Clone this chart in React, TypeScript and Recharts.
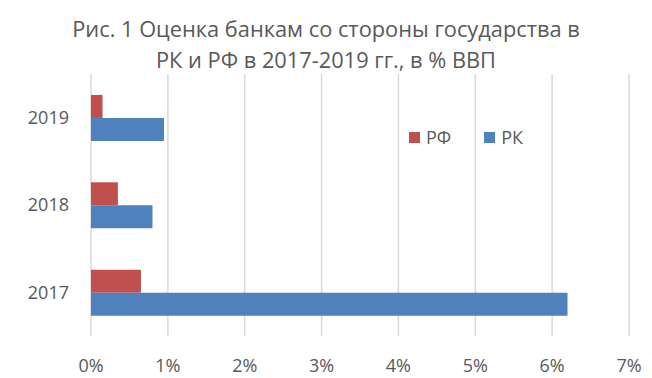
import { Bar, BarChart, CartesianGrid, XAxis, YAxis } from "recharts"

const years = ["2019", "2018", "2017"]
const rfValues = [0.0015, 0.0035, 0.0065]
const rkValues = [0.0095, 0.008, 0.062]
const xTicks = [0, 0.01, 0.02, 0.03, 0.04, 0.05, 0.06, 0.07]

const series = [
  { key: "РФ", color: "#C0504D" },
  { key: "РК", color: "#4F81BD" },
]

const data = years.map((year, i) => ({
  year,
  "РФ": rfValues[i],
  "РК": rkValues[i],
}))

const font = "'Open Sans', 'DejaVu Sans', sans-serif"
const textColor = "#595959"

export default function App() {
  return (
    <div
      style={{
        position: "absolute",
        top: 0,
        left: 0,
        width: 652,
        height: 378,
        background: "#fff",
        fontFamily: font,
      }}
    >
      <div
        style={{
          position: "absolute",
          top: 13,
          left: 0,
          width: 652,
          textAlign: "center",
          fontSize: 21.8,
          lineHeight: "31px",
          color: textColor,
        }}
      >
        Рис. 1 Оценка банкам со стороны государства в
        <br />
        РК и РФ в 2017-2019 гг., в % ВВП
      </div>
      <BarChart
        width={652}
        height={378}
        data={data}
        layout="vertical"
        margin={{ top: 74, right: 23, left: 0, bottom: 0 }}
        barGap={0}
        barCategoryGap="24%"
      >
        <CartesianGrid horizontal={false} stroke="#d9d9d9" strokeWidth={1.5} />
        <XAxis
          type="number"
          domain={[0, 0.07]}
          ticks={xTicks}
          tickFormatter={(v: number) => `${Math.round(v * 100)}%`}
          axisLine={false}
          tickLine={false}
          height={42}
          tickMargin={17}
          tick={{ fill: textColor, fontSize: 18, fontFamily: font }}
        />
        <YAxis
          type="category"
          dataKey="year"
          width={91}
          axisLine={false}
          tickLine={false}
          tickMargin={16}
          tick={{ fill: textColor, fontSize: 18, fontFamily: font }}
        />
        {series.map((s) => (
          <Bar key={s.key} dataKey={s.key} fill={s.color} isAnimationActive={false} />
        ))}
      </BarChart>
      <div
        style={{
          position: "absolute",
          top: 125,
          left: 409,
          display: "flex",
          alignItems: "center",
          fontSize: 18,
          color: textColor,
          lineHeight: "24px",
        }}
      >
        {series.map((s) => (
          <div key={s.key} style={{ display: "flex", alignItems: "center", marginRight: 33 }}>
            <span style={{ width: 11, height: 11, background: s.color, marginRight: 6 }} />
            <span>{s.key}</span>
          </div>
        ))}
      </div>
    </div>
  )
}
